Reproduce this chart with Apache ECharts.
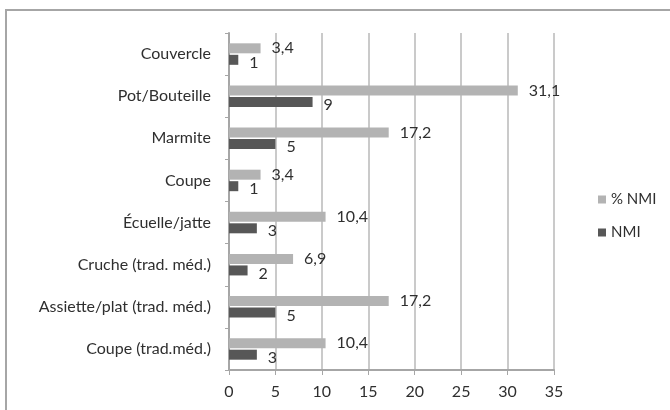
<!DOCTYPE html>
<html><head><meta charset="utf-8">
<script src="https://cdn.jsdelivr.net/npm/echarts@6/dist/echarts.min.js"></script>
<style>html,body{margin:0;padding:0;background:#fff}#c{width:670px;height:410px}
#frame{position:absolute;left:5px;top:9px;width:680px;height:420px;border:2px solid #a6a6a6;box-sizing:border-box;pointer-events:none}</style>
</head><body><div id="c"></div><div id="frame"></div>
<script>
const categories = ["Couvercle","Pot/Bouteille","Marmite","Coupe","Écuelle/jatte","Cruche (trad. méd.)","Assiette/plat (trad. méd.)","Coupe (trad.méd.)"];
const pctNMI = [3.4,31.1,17.2,3.4,10.4,6.9,17.2,10.4];
const nmi = [1,9,5,1,3,2,5,3];
const seriesNames = ["% NMI","NMI"];
const xTicks = {min:0,max:35,interval:5};

const font = 'Lato, "Liberation Sans", sans-serif';
const txt = '#2f2f2f';
const fs = 16;
const chart = echarts.init(document.getElementById('c'));
const fmt = p => String(p.value).replace('.', ',');
chart.setOption({
  animation:false,
  textStyle:{fontFamily:font},
  grid:{left:229,right:116,top:33,bottom:40},
  legend:{
    orient:'vertical', left:593, top:187, itemWidth:8, itemHeight:8, itemGap:18,
    icon:'rect', textStyle:{fontFamily:font,fontSize:15,color:txt},
    data:seriesNames
  },
  xAxis:{type:'value',min:xTicks.min,max:xTicks.max,interval:xTicks.interval,
    axisLine:{show:true,lineStyle:{color:'#a6a6a6',width:2}},
    axisTick:{show:true,length:5,lineStyle:{color:'#a6a6a6'}},
    axisLabel:{fontFamily:font,fontSize:fs,color:txt,margin:14},
    splitLine:{show:true,lineStyle:{color:'#b8b8b8',width:1.5}}},
  yAxis:{type:'category',data:categories,inverse:true,
    axisLine:{show:true,lineStyle:{color:'#a6a6a6',width:2}},
    axisTick:{show:true,length:4,lineStyle:{color:'#a6a6a6'}},
    axisLabel:{fontFamily:font,fontSize:fs,color:txt,margin:18}},
  series:[
    {name:seriesNames[0],type:'bar',data:pctNMI,barWidth:10,barGap:'15%',
     itemStyle:{color:'#b3b3b3'},
     label:{show:true,position:'right',distance:11,formatter:fmt,fontFamily:font,fontSize:fs,color:txt,offset:[0,0]}},
    {name:seriesNames[1],type:'bar',data:nmi,barWidth:10,
     itemStyle:{color:'#575757'},
     label:{show:true,position:'right',distance:11,formatter:fmt,fontFamily:font,fontSize:fs,color:txt,offset:[0,3]}}
  ]
});
</script></body></html>
